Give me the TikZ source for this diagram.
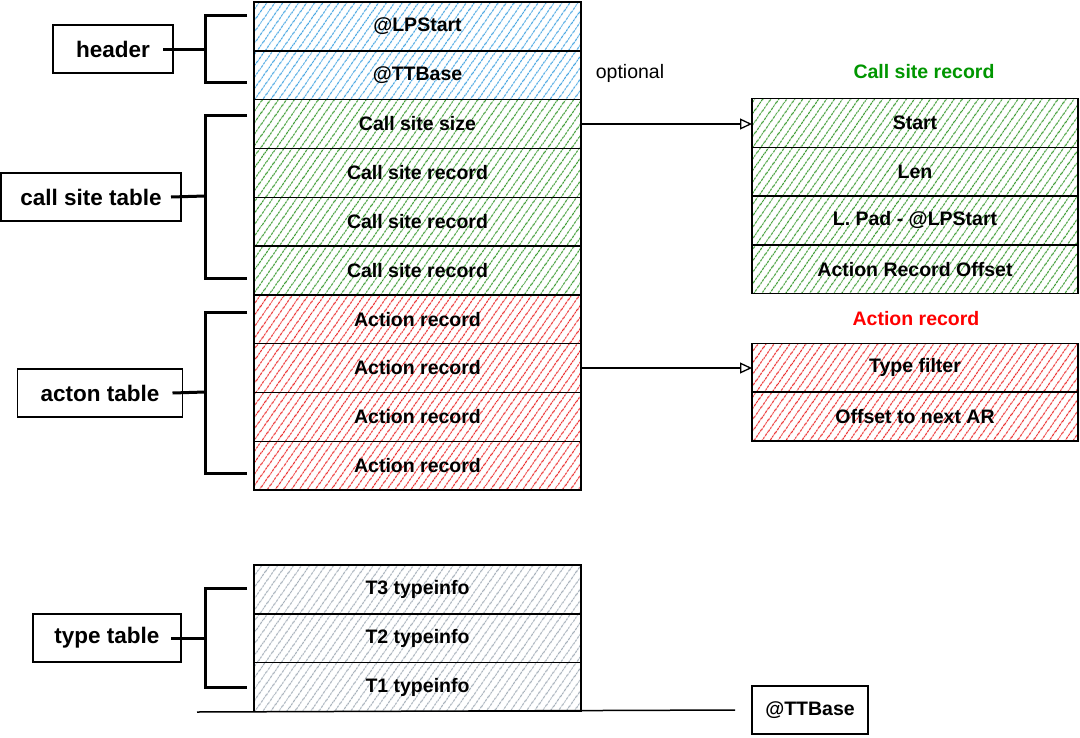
\documentclass[tikz,border=0pt]{standalone}
\usepackage{fontspec}
\setmainfont{Liberation Sans}
\usetikzlibrary{positioning,patterns.meta,arrows.meta}
\definecolor{hblue}{RGB}{70,165,225}
\definecolor{hgreen}{RGB}{60,155,50}
\definecolor{hred}{RGB}{235,45,45}
\definecolor{hgray}{RGB}{165,175,185}
\definecolor{tgreen}{RGB}{0,150,0}
\begin{document}
\begin{tikzpicture}[x=1pt,y=-1pt,node distance=0pt]
   \tikzset{arrow/.style = {line width=1.3pt, -{Triangle[open,length=12pt,width=11pt]}}}
   \tikzset{rec/.style = {rectangle, draw, line width=1.4pt, minimum width=327pt, minimum height=48.8pt, inner sep=0pt, outer sep=0pt, text centered, font=\fontsize{19.5}{23}\selectfont\bfseries}}
   \tikzset{hdr/.style = {rec, pattern={Lines[angle=55,distance=6.5pt,line width=1.2pt]}, pattern color=hblue}}
   \tikzset{csr/.style = {rec, pattern={Lines[angle=55,distance=6.5pt,line width=1.2pt]}, pattern color=hgreen}}
   \tikzset{acr/.style = {rec, pattern={Lines[angle=55,distance=6.5pt,line width=1.2pt]}, pattern color=hred}}
   \tikzset{tyr/.style = {rec, pattern={Lines[angle=55,distance=6.5pt,line width=1pt]}, pattern color=hgray}}
   \tikzset{lbl/.style = {rectangle, draw, line width=1.6pt, minimum height=48pt, inner sep=0pt, outer sep=0pt, font=\fontsize{22.5}{26}\selectfont\bfseries}}
   \tikzset{brace/.style = {line width=3pt}}
   \tikzset{title/.style = {font=\fontsize{19.5}{23}\selectfont\bfseries}}
   \useasboundingbox (0,0) rectangle (1080,737);

   % LSDA layout
   \node[hdr] (lps) at (417.5,26.4) {@LPStart};
   \node[hdr, below=of lps] (ttb) {@TTBase};
   \node[csr, below=of ttb] (csz) {Call site size};
   \node[csr, below=of csz] (cs1) {Call site record};
   \node[csr, below=of cs1] (cs2) {Call site record};
   \node[csr, below=of cs2] (cs3) {Call site record};
   \node[acr, below=of cs3] (ar1) {Action record};
   \node[acr, below=of ar1] (ar2) {Action record};
   \node[acr, below=of ar2] (ar3) {Action record};
   \node[acr, below=of ar3] (ar4) {Action record};

   \node[tyr] (t3) at (417.5,589.5) {T3 typeinfo};
   \node[tyr, below=of t3] (t2) {T2 typeinfo};
   \node[tyr, below=of t2] (t1) {T1 typeinfo};

   \node[font=\fontsize{19.5}{23}\selectfont] (opt) at (630,73) {optional};

   % call site record
   \node[title, text=tgreen] (cstitle) at (924,72) {Call site record};
   \node[csr, minimum width=326pt] (st) at (915,122.8) {Start};
   \node[csr, minimum width=326pt, below=of st] (len) {Len};
   \node[csr, minimum width=326pt, below=of len] (lpad) {L. Pad - @LPStart};
   \node[csr, minimum width=326pt, below=of lpad] (aro) {Action Record Offset};

   % action record
   \node[title, text=red] (artitle) at (916,319) {Action record};
   \node[acr, minimum width=326pt] (tf) at (915,367.6) {Type filter};
   \node[acr, minimum width=326pt, below=of tf] (onar) {Offset to next AR};

   \draw[arrow] (csz.east) -- (csz.east -| st.west);
   \draw[arrow] (ar2.east) -- (ar2.east -| tf.west);

   % tables
   \node[lbl, minimum width=120pt] (header) at (113,49) {header};
   \node[lbl, minimum width=180pt] (cst) at (91,197) {call site table};
   \node[lbl, minimum width=165pt] (act) at (100,393) {acton table};
   \node[lbl, minimum width=148pt] (tyt) at (107,638) {type table};

   \foreach \t/\b/\m/\n in {15/82/49/header, 115/278/196/cst, 312/473/392/act, 588/687/638/tyt} {
     \coordinate (\n-b) at (205,\m);
     \draw[brace] (247,\t) -| (\n-b) |- (247,\b);
     \draw[brace] ([xshift=-10pt]\n.east) -- (\n-b);
   }

   \node[lbl, minimum width=116pt, font=\fontsize{19.5}{23}\selectfont\bfseries] (ttbase) at (810,710) {@TTBase};
   \coordinate (base) at (197,712);
   \draw[line width=1.5pt] (base) -- ([xshift=-17pt]ttbase.west);

\end{tikzpicture}
\end{document}
